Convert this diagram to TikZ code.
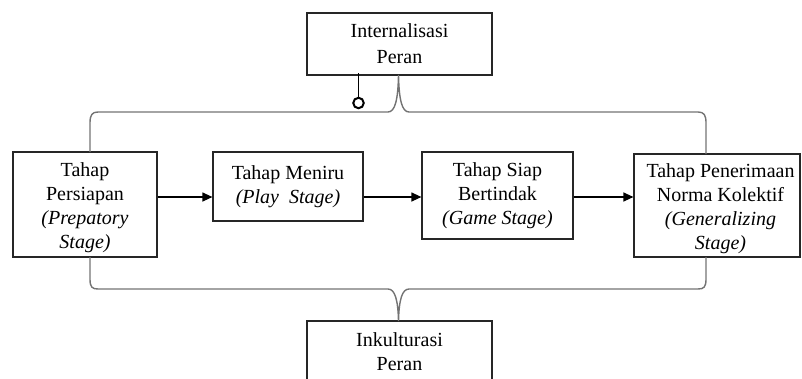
\documentclass[tikz,border=0pt]{standalone}
\usepackage{fontspec}
\setmainfont{Liberation Serif}
\usepackage{tikz}
\usetikzlibrary{arrows,arrows.meta,calc,positioning}
\tikzset{
        block/.style = {draw=black!85, rectangle, line width=1.2pt,
            align=center, inner sep=0pt,
            font=\fontsize{20}{24}\selectfont},
        arrow/.style={draw, line width=1.2pt, -{Triangle[length=10pt,width=9pt]}},
        bracket/.style = {draw=black!55, line width=1.4pt},
        knob/.style = {draw, circle, line width=2pt, inner sep=0pt, minimum size=10.5pt},
    }
\newcommand{\lift}{\rule{0pt}{21pt}}

\begin{document}
\begin{tikzpicture}[x=1pt,y=1pt]
                \useasboundingbox (0,0) rectangle (802,-378);
                \clip (0,0) rectangle (802,-378);

                \node[block, minimum width=185pt, minimum height=62pt] (intern) at (399.5,-44)
                      {Internalisasi\\[2pt]Peran};
                \node[block, minimum width=144pt, minimum height=105pt] (prep) at (85,-204.5)
                      {\lift Tahap\\Persiapan\\\textit{(Prepatory}\\\textit{Stage)}};
                \node[block, minimum width=150pt, minimum height=69pt] (play) at (288,-186.5)
                      {Tahap Meniru\\\textit{(Play~ Stage)}};
                \node[block, minimum width=151pt, minimum height=87pt] (game) at (497.5,-195.5)
                      {Tahap Siap\\Bertindak\\\textit{(Game Stage)}};
                \node[block, minimum width=166pt, minimum height=103pt] (gener) at (717,-205.5)
                      {\lift\hspace*{7pt}Tahap Penerimaan\\\hspace*{7pt}Norma Kolektif\\\hspace*{7pt}\textit{(Generalizing}\\\hspace*{7pt}\textit{Stage)}};
                \node[block, minimum width=185pt, minimum height=62pt] (inkul) at (399.5,-352)
                      {Inkulturasi\\Peran};

                \coordinate (lane) at (0,-197);
                \draw[arrow] (prep.east |- lane) -- (play.west |- lane);
                \draw[arrow] (play.east |- lane) -- (game.west |- lane);
                \draw[arrow] (game.east |- lane) -- (gener.west |- lane);

                % knob under the top box
                \node[knob] (ring) at (358.5,-103) {};
                \draw[line width=1pt] (ring.north) -- ([yshift=3pt]ring.north |- intern.south);

                % upper bracket
                \draw[bracket] (90,-152) -- (90,-123)
                      .. controls (90,-115) and (92,-112) .. (98,-112) -- (388,-112)
                      .. controls (395,-112) and (398,-100) .. (398.5,-75)
                      .. controls (399,-100) and (402,-112) .. (409,-112) -- (698,-112)
                      .. controls (704,-112) and (706,-115) .. (706,-123) -- (706,-154);
                % lower bracket
                \draw[bracket] (90,-257) -- (90,-279)
                      .. controls (90,-287) and (92,-289) .. (98,-289) -- (388,-289)
                      .. controls (395,-289) and (398,-300) .. (398.5,-321)
                      .. controls (399,-300) and (402,-289) .. (409,-289) -- (698,-289)
                      .. controls (704,-289) and (706,-287) .. (706,-279) -- (706,-257);
            \end{tikzpicture}
\end{document}
